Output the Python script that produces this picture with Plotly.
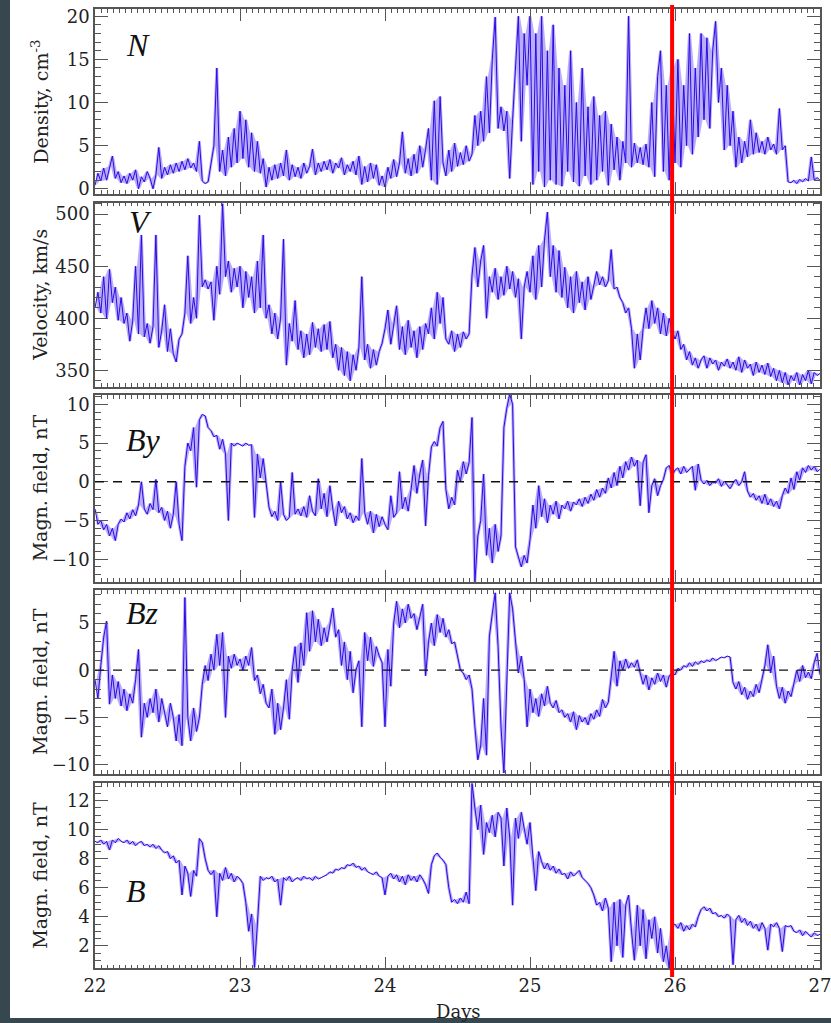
import plotly.graph_objects as go

# ---------------- data (sampled every 0.02 day, day 22.00 .. 27.00) ----------------
T_START = 22.0
T_STEP = 0.02

density = [
    0.4, 1.8, 0.9, 2.4, 1.0, 2.6, 3.8, 1.2, 2.0, 0.7,
    1.5, 0.6, 1.8, 1.0, 2.2, 0.0, 1.4, 0.8, 2.0, 1.2,
    0.0, 1.6, 4.8, 1.2, 2.5, 1.6, 2.8, 1.8, 3.0, 2.0,
    3.2, 2.2, 3.5, 2.4, 3.0, 2.0, 5.5, 0.9, 0.6, 0.8,
    3.0, 5.0, 14.0, 2.0, 4.5, 1.5, 6.0, 2.5, 7.0, 3.0,
    9.0, 3.5, 8.0, 2.5, 6.5, 2.0, 5.5, 1.8, 3.5, 0.2,
    2.5, 1.0, 2.8, 1.2, 3.0, 1.5, 4.5, 1.0, 2.8, 1.4,
    2.5, 1.2, 3.0, 1.8, 2.6, 4.6, 1.6, 3.0, 2.0, 3.2,
    2.2, 3.4, 1.8, 3.0, 2.4, 3.6, 1.6, 2.8, 2.0, 3.2,
    1.6, 3.8, 0.5, 2.6, 0.8, 3.0, 1.2, 2.8, 0.4, 1.5,
    0.2, 2.5, 1.2, 3.4, 1.4, 3.0, 6.6, 1.8, 3.5, 1.5,
    4.0, 1.8, 5.0, 2.5, 4.6, 7.0, 1.0, 10.2, 0.5, 10.7,
    3.0, 1.5, 4.5, 2.0, 5.3, 2.6, 4.2, 2.8, 5.0, 3.2,
    4.0, 8.5, 5.0, 9.0, 5.5, 13.0, 6.5, 15.0, 19.9, 7.0,
    9.5, 6.7, 9.0, 1.2, 8.0, 14.0, 20.0, 5.5, 18.0, 12.0,
    20.0, 0.5, 18.0, 2.0, 20.0, 0.2, 16.0, 1.0, 19.0, 0.5,
    14.0, 0.3, 12.0, 2.0, 16.0, 0.8, 10.0, 0.3, 14.0, 1.5,
    9.5, 0.5, 10.7, 1.0, 8.5, 2.0, 9.0, 0.4, 7.5, 2.2,
    6.0, 1.0, 5.5, 3.0, 20.0, 2.5, 5.3, 3.0, 4.8, 2.8,
    5.2, 2.5, 10.0, 1.4, 13.0, 16.0, 2.0, 12.0, 1.0, 14.0,
    3.0, 15.0, 2.5, 12.0, 5.0, 18.0, 4.0, 14.0, 6.0, 18.0,
    8.0, 17.5, 7.0, 16.0, 19.4, 10.0, 14.0, 4.5, 12.0, 5.0,
    9.0, 2.5, 6.0, 3.0, 5.5, 3.7, 8.0, 4.0, 6.5, 4.2,
    5.5, 4.0, 6.0, 4.5, 5.2, 4.0, 9.3, 4.5, 5.0, 0.8,
    0.7, 1.0, 0.6, 1.1, 0.8, 1.2, 0.9, 3.7, 1.0, 1.3,
    1.0,
]

velocity = [
    410, 425, 405, 440, 400, 447, 415, 430, 398, 420,
    395, 405, 378, 398, 450, 385, 480, 382, 395, 376,
    392, 480, 372, 388, 413, 368, 390, 366, 358, 380,
    385, 405, 460, 395, 420, 400, 499, 430, 437, 428,
    435, 398, 450, 423, 510, 440, 455, 425, 448, 430,
    450, 410, 445, 420, 440, 405, 455, 410, 480, 400,
    413, 385, 405, 380, 400, 476, 355, 395, 378, 417,
    370, 388, 362, 385, 365, 396, 372, 390, 368, 394,
    370, 397, 362, 375, 350, 372, 345, 368, 340, 365,
    350, 372, 440, 360, 375, 352, 370, 355, 368, 376,
    390, 408, 375, 395, 412, 370, 392, 365, 398, 372,
    388, 362, 392, 370, 395, 385, 410, 380, 425, 395,
    420, 380, 375, 388, 368, 385, 372, 387, 380, 385,
    441, 468, 430, 455, 470, 400, 440, 425, 448, 418,
    440, 422, 450, 428, 445, 420, 438, 380, 430, 445,
    425, 460, 418, 470, 430, 475, 502, 440, 470, 425,
    465, 420, 449, 410, 440, 405, 445, 415, 435, 408,
    440, 418, 430, 445, 432, 440, 430, 436, 466, 428,
    430, 420, 415, 405, 410, 390, 352, 385, 360, 390,
    410, 390, 417, 395, 410, 385, 405, 383, 400, 388,
    380, 388, 370, 375, 360, 368, 355, 362, 352, 360,
    364, 352, 362, 356, 360, 350, 358, 354, 361, 352,
    358, 350, 363, 348, 360, 352, 356, 345, 358, 348,
    355, 346, 357, 344, 352, 340, 350, 338, 348, 336,
    345, 340, 348, 336, 346, 340, 350, 337, 348, 345,
    347,
]

by_field = [
    -3.5, -5.5, -5.0, -6.2, -5.5, -7.0, -6.0, -7.6, -5.5, -4.8,
    -5.2, -4.0, -4.8, -3.6, -4.4, -3.0, 0.0, -3.5, -4.2, -2.8,
    -3.6, 0.3, -4.0, -3.3, -5.0, -3.8, -6.0, -4.2, 0.0, -5.5,
    -7.6, 2.0, 5.0, 4.0, 7.0, -0.7, 8.0, 8.7, 8.5, 7.0,
    6.6, 5.8, 6.0, 4.2, 5.5, 3.6, -5.0, 5.0, 4.6, 5.0,
    4.8, 4.6, 5.0, 4.7, 4.8, -4.6, 3.6, 0.5, 3.0, 0.0,
    -3.3, -4.5, -3.8, -5.0, 0.0, -4.2, -5.0, -4.6, 1.2, -4.2,
    -3.5, -4.4, -3.2, -4.6, -1.8, -3.8, -4.4, 0.4, -3.5, -1.5,
    -4.5, -0.5, -3.5, -5.7, -2.5, -4.0, -3.2, -4.8, -4.0, -5.3,
    -4.4, -5.0, 3.0, -4.0, -5.5, -3.8, -6.6, -4.2, -5.8, -4.5,
    -5.5, -6.2, -1.8, -4.6, -4.0, 1.3, -3.5, -2.0, -3.8, -1.0,
    2.1, -1.5, 1.0, 2.8, -5.7, 0.8, 4.5, 5.2, 4.6, 7.0,
    7.8, -1.0, -3.5, -2.0, -3.0, 1.5, 0.0, 2.6, 1.0, 2.5,
    8.3, -13.0, -7.0, -5.0, 1.0, -9.5, -6.0, -10.5, -5.5, -9.0,
    -7.0, 7.0, 9.5, 11.3, 10.0, -8.4, -9.8, -11.0, -9.5, -10.5,
    -7.5, -3.0, -6.0, -0.5, -4.5, -2.2, -5.3, -3.0, -4.2, -2.5,
    -4.8, -3.0, -3.5, -2.5, -3.8, -2.6, -3.0, -2.2, -3.2, -2.0,
    -2.8, -1.6, -2.4, -1.0, -2.0, -0.8, -1.5, 0.5, -0.8, 1.2,
    -0.5, 2.0, 0.5, 2.6, 1.5, 3.2, 2.0, 2.8, -3.1, 2.5,
    3.5, -4.0, -0.5, 0.4, -1.8, -0.5, 0.3, 1.8, 2.1, 0.8,
    1.5, 1.8, 1.0, 2.0, 1.2, 1.6, 2.0, -1.1, 2.3, 0.2,
    -0.3, 0.2, -0.5, 0.0, -0.2, 0.4, -0.6, 0.1, -0.4, -0.9,
    -0.2, 0.3, -0.5, 0.0, 1.3, -1.2, -2.0, -1.5, -2.4, -1.8,
    -2.8, -1.6, -3.0, -2.2, -3.2, -2.5, -3.5, -1.8, -0.8, -1.5,
    0.5, -1.0, 1.3, 0.2, 1.8, 1.2, 2.1, 1.5, 2.0, 1.3,
    1.6,
]

bz_field = [
    -1.0, -3.0, 0.5, 3.5, 5.2, -3.6, -0.5, -3.0, -1.2, -3.8,
    -2.0, -4.3, -2.5, -3.5, -1.0, 2.2, -7.1, -3.5, -5.0, -3.0,
    -4.5, -2.0, -5.5, -3.0, -4.5, -6.0, -3.5, -5.0, -7.5, -4.7,
    -8.0, 7.7, -5.0, -7.5, -4.0, -6.5, -5.0, -1.5, 0.5, -1.1,
    1.7, 0.0, 3.8, 0.5, 4.0, -5.0, 1.5, 0.2, 1.7, 0.5,
    1.2, 0.0, 1.5, 0.5, 2.4, -1.1, -0.5, -2.5, -1.5, -3.5,
    -4.0, -2.0, -6.8, -3.5, -6.3, -4.0, -1.0, -5.2, 0.0, 2.5,
    -1.3, 2.9, 0.5, 6.1, 2.0, 6.3, 3.0, 5.4, 2.6, 4.5,
    3.0, 5.0, 6.6, 3.5, 4.3, 0.5, 3.0, -1.0, 2.0, -2.4,
    0.0, 1.0, -6.0, 4.0, 1.0, 3.5, 0.4, 2.5, 1.5, 0.8,
    -6.0, 2.2, -1.7, 5.0, 7.3, 4.5, 6.5, 5.0, 7.0, 5.5,
    6.0, 4.3, 5.5, 7.0, -0.6, 3.0, 5.0, 2.6, 5.9, 4.0,
    5.5, 3.5, 4.3, 2.8, 3.0, 1.5, 0.0, -0.3, -1.0, -0.5,
    -2.0, -6.0, -9.5, -8.0, -3.0, -9.0, 3.6, 6.0, 8.2, 2.5,
    -6.0, -10.9, 0.0, 8.2, 6.5, 2.9, -0.3, 1.5, -1.0, -6.0,
    -2.0, -4.5, -3.0, -4.9, -2.5, -3.8, -1.7, -3.5, -4.0, -3.2,
    -4.5, -4.2, -5.0, -4.6, -5.5, -4.4, -6.3, -4.8, -5.5, -5.0,
    -5.8, -4.6, -5.2, -4.2, -4.9, -3.1, -4.0, -3.4, -1.0, 2.0,
    -1.7, 1.0, 0.0, 1.2, 0.2, 0.8, 0.3, 1.1, -0.3, -1.5,
    -0.5, -2.1, -0.8, -1.5, -0.3, -1.2, -0.5, -1.8, -0.6, -0.3,
    -0.5, 0.2, 0.0, 0.5, 0.3, 0.8, 0.4, 0.9, 0.6, 1.0,
    0.8, 1.1, 0.9, 1.3, 1.0, 1.2, 1.4, 1.3, 1.5, 1.4,
    -1.3, -2.0, -1.2, -2.6, -1.8, -3.1, -2.2, -2.8, -1.5, -2.4,
    -1.0, 0.5, 2.7, -0.3, 1.5, -1.7, -3.0, -1.8, -3.5, -2.2,
    -2.8, -1.5, 0.0, -1.2, 0.5, -0.8, -0.2, -0.9, 0.8, 1.8,
    -0.5,
]

b_total = [
    9.2, 9.1, 9.3, 9.0, 9.2, 8.6, 9.3, 9.1, 9.4, 9.2,
    9.1, 9.3, 9.0, 9.2, 8.9, 9.1, 9.2, 8.9, 9.0, 8.8,
    9.0, 8.7, 8.9, 8.6, 8.4, 8.5, 8.0, 8.2, 7.7, 7.9,
    5.5, 7.5, 7.0, 5.4, 7.2, 6.8, 9.4, 9.1, 8.0, 7.2,
    6.9, 7.2, 4.0, 7.0, 6.5, 7.4, 6.6, 7.0, 6.4, 6.8,
    6.6, 6.3, 5.0, 3.0, 4.2, 0.5, 3.5, 6.8, 6.5, 6.7,
    6.6, 6.8, 6.4, 6.6, 4.8, 6.7, 6.5, 6.8, 6.4, 6.6,
    6.7, 6.5, 6.8, 6.6, 6.7, 6.5, 6.8, 6.6, 6.7, 6.8,
    6.9, 7.1, 7.0, 7.3, 7.2, 7.4, 7.3, 7.6, 7.5, 7.7,
    7.4, 7.5, 7.2, 7.4, 7.1, 7.0, 6.9, 7.1, 6.8, 6.7,
    5.5, 6.8, 7.0, 6.6, 6.9, 6.4, 6.8, 6.2, 6.9, 6.5,
    6.8, 6.4, 6.9, 6.6, 6.2, 5.6, 7.6, 8.2, 8.4, 8.1,
    7.9, 7.6, 6.0, 5.0, 5.2, 4.9, 5.3, 5.0, 5.7, 4.9,
    13.2, 11.5, 10.0, 11.7, 8.3, 10.5, 9.8, 11.0, 9.5, 11.2,
    10.8, 7.5, 11.5, 9.5, 4.8, 10.8, 9.4, 11.2, 10.0, 9.0,
    10.5, 7.8, 5.8, 8.5, 7.8, 7.3, 7.7, 7.2, 7.5, 7.0,
    7.3, 6.9, 7.0, 6.6, 7.1, 6.8, 7.0, 7.2, 6.7, 6.5,
    6.3, 6.0, 5.5, 4.8, 5.0, 4.4, 5.3, 4.6, 0.9, 5.0,
    2.0, 5.2, 1.2, 4.8, 5.5, 3.0, 1.0, 4.8, 2.0, 4.5,
    1.1, 3.8, 2.5, 4.0, 1.5, 3.2, 0.9, 2.0, 0.45, 3.4,
    3.5, 3.2, 3.6, 3.0, 3.4, 3.1, 3.5, 3.3, 4.0, 4.5,
    4.7, 4.4, 4.6, 4.2, 4.3, 4.0, 4.1, 3.9, 4.2, 4.0,
    0.7, 3.8, 4.1, 3.6, 3.9, 3.4, 3.7, 3.2, 3.5, 3.0,
    3.6, 3.2, 1.7, 3.5, 3.3, 3.6, 3.2, 1.6, 3.4, 3.3,
    3.4, 3.0, 2.9, 3.1, 2.7, 3.0, 2.8, 2.6, 2.9, 2.7,
    2.8,
]

panel_labels = ["N", "V", "By", "Bz", "B"]
y_titles = ["Density, cm<sup>-3</sup>", "Velocity, km/s",
            "Magn. field, nT", "Magn. field, nT", "Magn. field, nT"]
x_tick_labels = ["22", "23", "24", "25", "26", "27"]
event_day = 25.98

# ---------------- layout geometry ----------------
W, H = 831, 1023
X0, X1 = 95, 820
panels_px = [(9.3, 194), (202.7, 387), (395, 581.7), (590, 774), (783.3, 968.3)]
y_ranges = [[-0.6, 20.8], [334, 511], [-12.9, 11.2], [-11.0, 8.5], [0.45, 13.2]]
y_dticks = [5, 50, 5, 5, 2]
y_tick0 = [0, 350, 0, 0, 0]
y_minor = [1, 10, 1, 1, 0.5]

series = [density, velocity, by_field, bz_field, b_total]
t = [T_START + T_STEP * i for i in range(len(density))]
t_mid = [T_START + T_STEP * (i + 0.5) for i in range(len(density) - 1)]

FONT = "DejaVu Serif"
AX_COL = "#555555"
LINE_COL = "#2a0ae6"
BAND_COL = "rgba(42,10,230,0.33)"
TXT_COL = "#222222"

fig = go.Figure()
layout = dict(
    width=W, height=H, autosize=False,
    margin=dict(l=0, r=0, t=0, b=0, pad=0, autoexpand=False),
    paper_bgcolor="white", plot_bgcolor="white",
    showlegend=False,
    font=dict(family=FONT, size=17, color=TXT_COL),
)

annotations = []
shapes = []

for k in range(5):
    idx = "" if k == 0 else str(k + 1)
    top, bot = panels_px[k]
    vals = series[k]
    # envelope of each sampled step (between consecutive readings)
    hi = [max(vals[i], vals[i + 1]) for i in range(len(vals) - 1)]
    lo = [min(vals[i], vals[i + 1]) for i in range(len(vals) - 1)]
    fig.add_trace(go.Scatter(
        x=t_mid, y=hi, mode="lines", line=dict(width=0, color=BAND_COL),
        xaxis="x" + idx, yaxis="y" + idx, hoverinfo="skip"))
    fig.add_trace(go.Scatter(
        x=t_mid, y=lo, mode="lines", line=dict(width=0, color=BAND_COL),
        fill="tonexty", fillcolor=BAND_COL,
        xaxis="x" + idx, yaxis="y" + idx, hoverinfo="skip"))
    fig.add_trace(go.Scatter(
        x=t, y=vals, mode="lines",
        line=dict(color=LINE_COL, width=1),
        xaxis="x" + idx, yaxis="y" + idx, hoverinfo="skip"))

    layout["xaxis" + idx] = dict(
        domain=[X0 / W, X1 / W], anchor="y" + idx,
        range=[22, 27], tickmode="array",
        tickvals=[22, 23, 24, 25, 26, 27], ticktext=x_tick_labels,
        showticklabels=(k == 4), automargin=False, ticklabeloverflow="allow",
        ticks="inside", ticklen=12, tickwidth=1.2, tickcolor=AX_COL,
        minor=dict(ticks="inside", ticklen=4, dtick=1 / 24, tick0=22,
                   tickcolor=AX_COL, tickwidth=1),
        showline=True, linecolor=AX_COL, linewidth=1.5, mirror="ticks",
        showgrid=False, zeroline=False,
        tickfont=dict(family=FONT, size=18, color=TXT_COL),
        matches=None if k == 0 else "x",
    )
    layout["yaxis" + idx] = dict(
        domain=[1 - bot / H, 1 - top / H], anchor="x" + idx,
        range=y_ranges[k], tick0=y_tick0[k], dtick=y_dticks[k],
        automargin=False, ticklabeloverflow="allow",
        ticks="inside", ticklen=13, tickwidth=1.2, tickcolor=AX_COL,
        minor=dict(ticks="inside", ticklen=6, dtick=y_minor[k],
                   tick0=y_tick0[k], tickcolor=AX_COL, tickwidth=1),
        showline=True, linecolor=AX_COL, linewidth=1.5, mirror="ticks",
        showgrid=False, zeroline=False,
        tickfont=dict(family=FONT, size=18, color=TXT_COL),
    )
    # rotated y-axis title
    annotations.append(dict(
        text=y_titles[k], textangle=-90, showarrow=False,
        xref="paper", yref="paper", x=40 / W, y=1 - (top + bot) / 2 / H,
        xanchor="center", yanchor="middle",
        font=dict(family=FONT, size=19, color=TXT_COL)))

# panel labels (italic)
label_pos = [(124, 45), (127, 222), (124, 440), (124, 613), (124, 891)]
for k, (px, py) in enumerate(label_pos):
    annotations.append(dict(
        text="<i>" + panel_labels[k] + "</i>", showarrow=False,
        xref="paper", yref="paper", x=px / W, y=1 - py / H,
        xanchor="left", yanchor="middle",
        font=dict(family="Liberation Serif", size=32, color="#111111")))

annotations.append(dict(
    text="Days", showarrow=False, xref="paper", yref="paper",
    x=458 / W, y=1 - 1011 / H, xanchor="center", yanchor="middle",
    font=dict(family=FONT, size=18, color=TXT_COL)))

# dashed zero lines on By and Bz panels
for idx in ["3", "4"]:
    shapes.append(dict(type="line", xref="x" + idx, yref="y" + idx,
                       x0=22, x1=27, y0=0, y1=0,
                       line=dict(color="#111111", width=1.3, dash="dash"),
                       layer="above"))

# red event line across all panels
shapes.append(dict(type="line", xref="x", yref="paper",
                   x0=event_day, x1=event_day, y0=1 - 977 / H, y1=1 - 5 / H,
                   line=dict(color="#ff0000", width=4), layer="above"))

# dark frame strips (left and bottom)
shapes.append(dict(type="rect", xref="paper", yref="paper",
                   x0=0, x1=10 / W, y0=0, y1=1,
                   fillcolor="#37474f", line=dict(width=0), layer="above"))
shapes.append(dict(type="rect", xref="paper", yref="paper",
                   x0=0, x1=1, y0=0, y1=5 / H,
                   fillcolor="#37474f", line=dict(width=0), layer="above"))

layout["annotations"] = annotations
layout["shapes"] = shapes
fig.update_layout(**layout)
fig.write_html(
    "out.html",
    config={"displayModeBar": False, "responsive": False},
    post_script="document.body.style.margin='0px';document.body.style.overflow='hidden';",
)
